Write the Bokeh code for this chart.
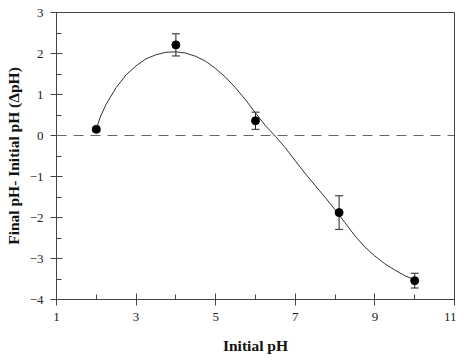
from bokeh.plotting import figure
from bokeh.models import ColumnDataSource, Whisker, TeeHead, FixedTicker, Span, Range1d
from bokeh.embed import file_html
from bokeh.resources import INLINE

# measured data
ph_initial = [2.0, 4.0, 6.0, 8.1, 10.0]
delta_ph = [0.15, 2.21, 0.36, -1.88, -3.54]
delta_err = [0.05, 0.27, 0.21, 0.41, 0.18]

# fitted trend curve
curve_x = [2.0, 2.1, 2.25, 2.5, 2.75, 3.0, 3.25, 3.5, 3.75, 4.0, 4.25, 4.5, 4.75, 5.0,
           5.25, 5.5, 5.75, 6.0, 6.25, 6.5, 6.75, 7.0, 7.25, 7.5, 7.75, 8.0,
           8.25, 8.5, 8.75, 9.0, 9.25, 9.5, 9.75, 10.0]
curve_y = [0.15, 0.45, 0.77, 1.17, 1.48, 1.70, 1.87, 1.97, 2.03, 2.04, 2.01, 1.93, 1.81, 1.63,
           1.42, 1.16, 0.87, 0.55, 0.24, -0.02, -0.30, -0.62, -0.93, -1.22, -1.51, -1.81,
           -2.13, -2.45, -2.72, -2.94, -3.13, -3.28, -3.42, -3.52]

x_ticks = [1, 3, 5, 7, 9, 11]
x_minor = [2, 4, 6, 8, 10]
y_ticks = [-4, -3, -2, -1, 0, 1, 2, 3]
y_minor = [-3.5, -2.5, -1.5, -0.5, 0.5, 1.5, 2.5]

FONT = "Liberation Serif"
AX = "#444444"

p = figure(width=456, height=360, output_backend="svg", toolbar_location=None,
           x_range=Range1d(1, 11), y_range=Range1d(-4, 3),
           min_border_left=56, min_border_right=2, min_border_top=12, min_border_bottom=61)
p.background_fill_color = "white"
p.border_fill_color = "white"
p.xgrid.visible = False
p.ygrid.visible = False
p.outline_line_color = AX
p.outline_line_width = 1

src = ColumnDataSource(dict(x=ph_initial, y=delta_ph,
                            upper=[v + e for v, e in zip(delta_ph, delta_err)],
                            lower=[v - e for v, e in zip(delta_ph, delta_err)]))

zero = Span(location=0, dimension="width", line_color="#666666", line_width=1, line_dash="10 7")
p.add_layout(zero)

p.line(curve_x, curve_y, line_color="#333333", line_width=1)

w = Whisker(source=src, base="x", upper="upper", lower="lower", line_color="#222222", line_width=1,
            upper_head=TeeHead(size=8, line_color="#222222", line_width=1),
            lower_head=TeeHead(size=8, line_color="#222222", line_width=1))
p.add_layout(w)

p.scatter("x", "y", source=src, size=8, fill_color="black", line_color="black")

for ax in (p.xaxis[0], p.yaxis[0]):
    ax.axis_line_color = AX
    ax.major_tick_line_color = AX
    ax.minor_tick_line_color = AX
    ax.major_tick_in = 6
    ax.major_tick_out = 6
    ax.minor_tick_in = 5
    ax.minor_tick_out = 0
    ax.major_label_text_font = FONT
    ax.major_label_text_font_size = "13px"
    ax.major_label_text_color = "#222222"
    ax.axis_label_text_font = FONT
    ax.axis_label_text_font_size = "15.5px"
    ax.axis_label_text_font_style = "bold"
    ax.axis_label_text_color = "#111111"

p.xaxis.ticker = FixedTicker(ticks=x_ticks, minor_ticks=x_minor)
p.yaxis.ticker = FixedTicker(ticks=y_ticks, minor_ticks=y_minor)
p.xaxis.axis_label = "Initial pH"
p.yaxis.axis_label = "Final pH- Initial pH (ΔpH)"
p.xaxis.major_label_standoff = 7
p.xaxis.axis_label_standoff = 13
p.yaxis.major_label_standoff = 7
p.yaxis.axis_label_standoff = 5

open("out.html", "w").write(file_html(p, INLINE))
